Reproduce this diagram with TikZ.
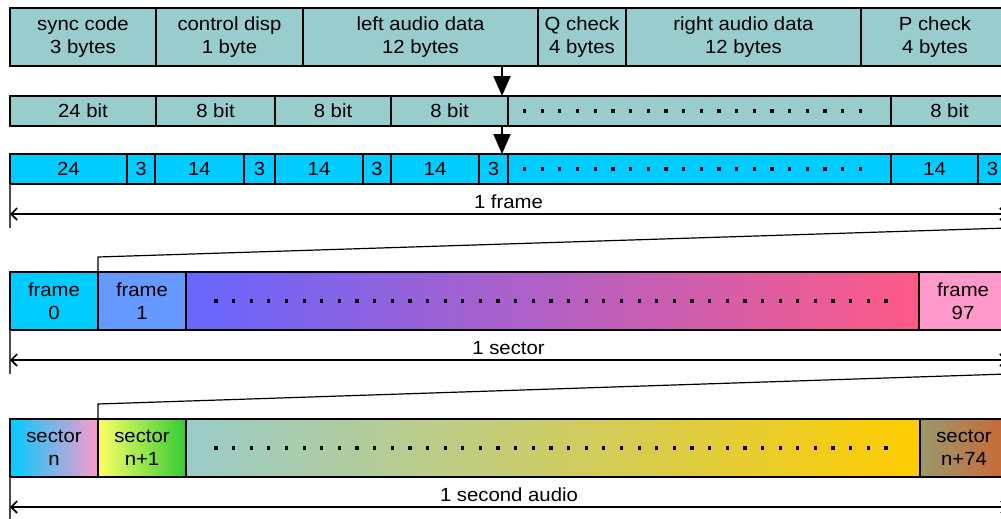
\documentclass[tikz,border=0pt]{standalone}
\usepackage{fontspec}
\setmainfont[FakeStretch=1.07]{Liberation Sans}
\usetikzlibrary{arrows.meta, positioning, calc}
\definecolor{fieldcol}{HTML}{99CCCC}
\definecolor{bitcol}{HTML}{00CCFF}
\definecolor{frameone}{HTML}{6699FF}
\definecolor{framemid}{HTML}{6666FF}
\definecolor{frameend}{HTML}{FF5A87}
\definecolor{framelast}{HTML}{FF99CC}
\tikzset{x=1pt, y=-1pt, % one unit = one pixel, y runs downwards
field/.style={draw, line width=2.6pt, anchor=north west, inner sep=0pt, outer sep=0pt,
  align=center, font=\fontsize{19}{23}\selectfont}, % every box of a row
teal/.style={field, fill=fieldcol},
cyan/.style={field, fill=bitcol},
tick/.style={line width=1.2pt, black!70}, % end marks of a measure
dim/.style={line width=1.6pt, {Straight Barb[length=6pt,width=12pt]}-{Straight Barb[length=6pt,width=12pt]}},
bigarrow/.style={line width=2pt, -{Triangle[length=20pt,width=17pt]}},
zoomline/.style={line width=1.2pt},
dimlabel/.style={above=5pt, inner sep=0pt, font=\fontsize{19}{23}\selectfont},
}
\begin{document}
\begin{tikzpicture}
  \useasboundingbox (0,0) rectangle (1001,519);
  \clip (0,0) rectangle (1001,519);

  % frame fields in bytes
  \node[teal, minimum width=146, minimum height=58] (sync) at (10,8) {sync code\\3 bytes};
  \node[teal, minimum width=147, minimum height=58] (ctrl) at (sync.north east) {control disp\\1 byte};
  \node[teal, minimum width=235, minimum height=58] (lad) at (ctrl.north east) {left audio data\\12 bytes};
  \node[teal, minimum width=88, minimum height=58] (qchk) at (lad.north east) {Q check\\4 bytes};
  \node[teal, minimum width=235, minimum height=58] (rad) at (qchk.north east) {right audio data\\12 bytes};
  \node[teal, minimum width=148, minimum height=58] (pchk) at (rad.north east) {P check\\4 bytes};

  % fields in bits
  \node[teal, minimum width=146, minimum height=30] (b1) at (10,96) {24 bit};
  \node[teal, minimum width=119, minimum height=30] (b2) at (b1.north east) {8 bit};
  \node[teal, minimum width=116, minimum height=30] (b3) at (b2.north east) {8 bit};
  \node[teal, minimum width=117, minimum height=30] (b4) at (b3.north east) {8 bit};
  \node[teal, minimum width=383, minimum height=30] (bd) at (b4.north east) {};
  \node[teal, minimum width=117, minimum height=30] (b5) at (bd.north east) {8 bit};

  % after EFM coding
  \node[cyan, minimum width=117, minimum height=30] (c1) at (10,154) {24};
  \node[cyan, minimum width=28, minimum height=30] (c2) at (c1.north east) {3};
  \node[cyan, minimum width=89, minimum height=30] (c3) at (c2.north east) {14};
  \node[cyan, minimum width=31, minimum height=30] (c4) at (c3.north east) {3};
  \node[cyan, minimum width=88, minimum height=30] (c5) at (c4.north east) {14};
  \node[cyan, minimum width=28, minimum height=30] (c6) at (c5.north east) {3};
  \node[cyan, minimum width=88, minimum height=30] (c7) at (c6.north east) {14};
  \node[cyan, minimum width=29, minimum height=30] (c8) at (c7.north east) {3};
  \node[cyan, minimum width=383, minimum height=30] (cd) at (c8.north east) {};
  \node[cyan, minimum width=87, minimum height=30] (c9) at (cd.north east) {14};
  \node[cyan, minimum width=29, minimum height=30] (c10) at (c9.north east) {3};

  \foreach \i in {0,...,19} {
    \fill ($(bd.west)+(16.5+\i*17.68,0)$) +(-1.6,-1.6) rectangle +(1.6,1.6);
    \fill ($(cd.west)+(16.5+\i*17.68,0)$) +(-1.6,-1.6) rectangle +(1.6,1.6);
  }

  \coordinate (ax) at (502,0);
  \draw[bigarrow] (lad.south -| ax) -- (b4.north -| ax);
  \draw[bigarrow] (b4.south -| ax) -- (c8.north -| ax);

  % 1 frame
  \coordinate (fa) at ([yshift=-44pt]c1.south west);
  \coordinate (fb) at ([yshift=-44pt]c10.south east);
  \draw[tick] (c1.south west) -- (fa);
  \draw[tick] (c10.south east) -- (fb);
  \draw[dim] ([yshift=-30pt]c1.south west) -- ([yshift=-30pt]c10.south east) node[midway, dimlabel] {1 frame};

  % frames in a sector
  \node[field, fill=bitcol, minimum width=88, minimum height=58] (f0) at (10,272) {frame\\0};
  \node[field, fill=frameone, minimum width=88, minimum height=58] (f1) at (f0.north east) {frame\\1};
  \node[field, left color=framemid, right color=frameend, minimum width=733, minimum height=58] (fd) at (f1.north east) {};
  \node[field, fill=framelast, minimum width=88, minimum height=58] (f97) at (fd.north east) {frame\\97};
  \draw[zoomline] (f1.north west) -- ++(0,-15) -- (fb);

  \coordinate (sa) at ([yshift=-44pt]f0.south west);
  \coordinate (sb) at ([yshift=-44pt]f97.south east);
  \draw[tick] (f0.south west) -- (sa);
  \draw[tick] (f97.south east) -- (sb);
  \draw[dim] ([yshift=-30pt]f0.south west) -- ([yshift=-30pt]f97.south east) node[midway, dimlabel] {1 sector};

  % sectors in a second
  \node[field, left color=bitcol, right color=framelast, minimum width=88, minimum height=58] (s0) at (10,419) {sector\\n};
  \node[field, left color={rgb,255:red,255;green,255;blue,102}, right color={rgb,255:red,51;green,204;blue,51}, minimum width=88, minimum height=58] (s1) at (s0.north east) {sector\\n+1};
  \node[field, left color=fieldcol, right color={rgb,255:red,255;green,204;blue,0}, minimum width=734, minimum height=58] (sd) at (s1.north east) {};
  \node[field, left color={rgb,255:red,153;green,153;blue,107}, right color={rgb,255:red,204;green,102;blue,51}, minimum width=88, minimum height=58] (s74) at (sd.north east) {sector\\n+74};
  \draw[zoomline] (s1.north west) -- ++(0,-15) -- (sb);

  \foreach \i in {0,...,38} {
    \fill ($(fd.west)+(30+\i*17.63,0)$) +(-1.6,-1.6) rectangle +(1.6,1.6);
    \fill ($(sd.west)+(30+\i*17.63,0)$) +(-1.6,-1.6) rectangle +(1.6,1.6);
  }

  \coordinate (ta) at ([yshift=-44pt]s0.south west);
  \coordinate (tb) at ([yshift=-44pt]s74.south east);
  \draw[tick] (s0.south west) -- (ta);
  \draw[tick] (s74.south east) -- (tb);
  \draw[dim] ([yshift=-30pt]s0.south west) -- ([yshift=-30pt]s74.south east) node[midway, dimlabel] {1 second audio};
\end{tikzpicture}
\end{document}
